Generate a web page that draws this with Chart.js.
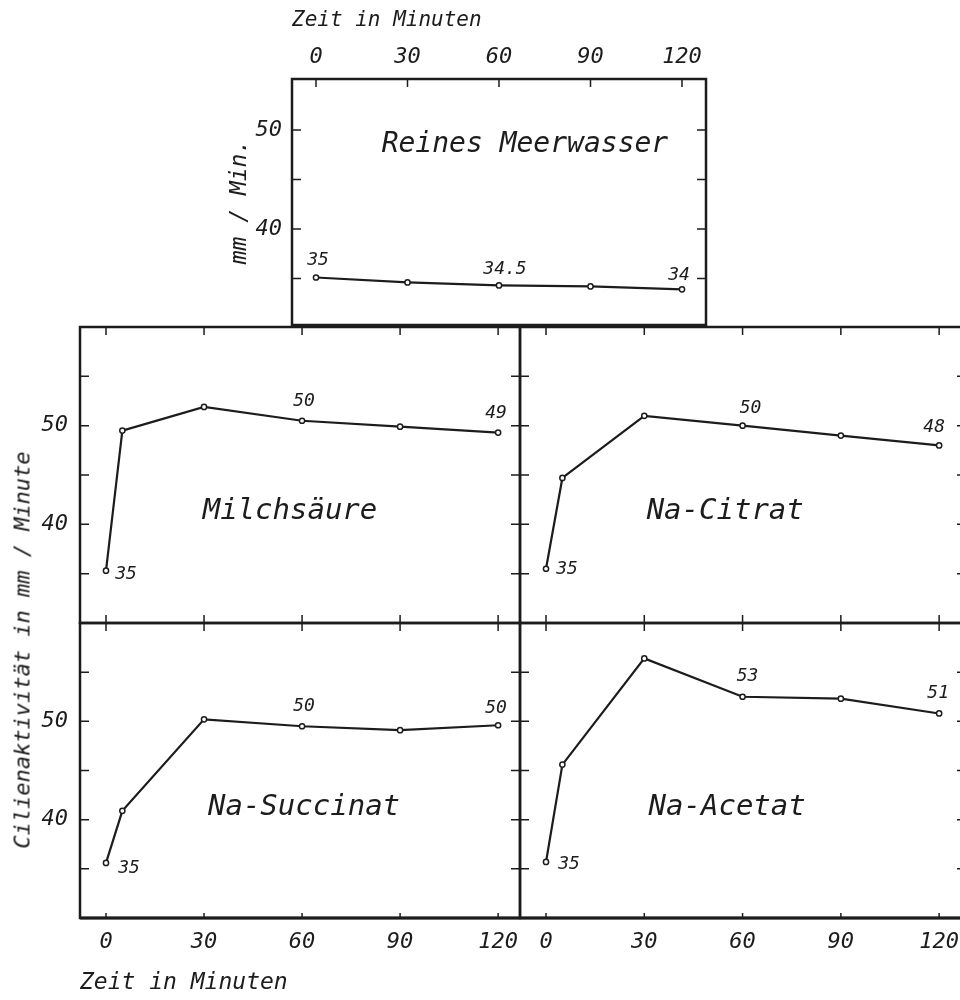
<!DOCTYPE html>
<html lang="de">
<head>
<meta charset="utf-8">
<title>Cilienaktivität</title>
<script src="https://cdn.jsdelivr.net/npm/chart.js@4.4.1/dist/chart.umd.min.js"></script>
<style>
  html, body { margin: 0; padding: 0; background: #fff; overflow: hidden; }
  body { width: 960px; height: 1000px; position: relative; }
  canvas { position: absolute; }
  #yTitel {
    position: absolute; left: 22px; top: 650px;
    transform: translate(-50%, -50%) rotate(-90deg);
    font: italic 22px 'DejaVu Sans Mono', monospace;
    white-space: nowrap; color: #1c1c1c;
  }
</style>
</head>
<body>
<canvas id="chartMeer" width="531" height="350" style="left:200px;top:0px"></canvas>
<canvas id="chartMilch" width="550" height="356" style="left:0px;top:297px"></canvas>
<canvas id="chartCitrat" width="500" height="356" style="left:490px;top:297px"></canvas>
<canvas id="chartSuccinat" width="550" height="407" style="left:0px;top:593px"></canvas>
<canvas id="chartAcetat" width="500" height="407" style="left:490px;top:593px"></canvas>
<div id="yTitel">Cilienaktivität in mm / Minute</div>

<script>
// Messzeitpunkte (Minuten)
const zeitMeer = [0, 30, 60, 90, 120];
const zeit = [0, 5, 30, 60, 90, 120];
const zeitTicks = [0, 30, 60, 90, 120];
const wertTicks = [35, 40, 45, 50, 55];
const wertLabels = [40, 50];

// Cilienaktivität in mm/Minute
const meerwasser = [35.1, 34.6, 34.3, 34.2, 33.9];
const milchsaeure = [35.3, 49.5, 51.9, 50.5, 49.9, 49.3];
const naCitrat = [35.5, 44.7, 51.0, 50.0, 49.0, 48.0];
const naSuccinat = [35.6, 40.9, 50.2, 49.5, 49.1, 49.6];
const naAcetat = [35.7, 45.6, 56.4, 52.5, 52.3, 50.8];

// Zahlen, die an die Punkte geschrieben sind
const meerText = ['35', '', '34.5', '', '34'];
const milchText = ['35', '', '', '50', '', '49'];
const citratText = ['35', '', '', '50', '', '48'];
const succinatText = ['35', '', '', '50', '', '50'];
const acetatText = ['35', '', '', '53', '', '51'];

const FONT = "'DejaVu Sans Mono', monospace";
const schwarz = '#1c1c1c';

// Rahmen, Striche nach innen und Beschriftung im Diagramm
const rahmen = {
    id: 'rahmen',
    beforeDatasetsDraw(chart, args, o) {
        const { ctx, chartArea: a, scales } = chart;
        ctx.save();
        ctx.strokeStyle = schwarz;
        ctx.lineWidth = 2.5;
        ctx.strokeRect(a.left, a.top, a.right - a.left, a.bottom - a.top);
        if (o.unten) {
            ctx.lineWidth = o.unten;
            ctx.beginPath();
            ctx.moveTo(a.left, a.bottom);
            ctx.lineTo(a.right, a.bottom);
            ctx.stroke();
        }
        ctx.lineWidth = 1.5;
        ctx.beginPath();
        zeitTicks.forEach(v => {
            const x = scales.x.getPixelForValue(v);
            ctx.moveTo(x, a.top); ctx.lineTo(x, a.top + 8);
            if (o.xUnten !== false) {
                const l = o.unten ? 5 : 8;
                ctx.moveTo(x, a.bottom); ctx.lineTo(x, a.bottom - l);
            }
        });
        o.yTicks.forEach(v => {
            const y = scales.y.getPixelForValue(v);
            ctx.moveTo(a.left, y); ctx.lineTo(a.left + 9, y);
            ctx.moveTo(a.right, y); ctx.lineTo(a.right - 9, y);
        });
        ctx.stroke();
        ctx.restore();
    },
    afterDatasetsDraw(chart, args, o) {
        const { ctx, scales } = chart;
        ctx.save();
        ctx.fillStyle = schwarz;
        ctx.textAlign = 'center';
        ctx.textBaseline = 'middle';
        ctx.font = 'italic ' + o.nameSize + 'px ' + FONT;
        ctx.fillText(o.name, scales.x.getPixelForValue(o.nameX), scales.y.getPixelForValue(o.nameY));
        ctx.font = 'italic 18px ' + FONT;
        const pts = chart.getDatasetMeta(0).data;
        o.texte.forEach((t, i) => {
            if (!t) return;
            const off = o.versatz[i];
            ctx.fillText(t, pts[i].x + off[0], pts[i].y + off[1]);
        });
        ctx.restore();
    }
};

function schrift(size) {
    return { family: FONT, size: size, style: 'italic' };
}

function panel(id, c) {
    const xAchse = {
        type: 'linear', min: c.xMin, max: c.xMax,
        position: c.xPos || 'bottom',
        display: !!c.xHoehe,
        afterBuildTicks: s => { s.ticks = zeitTicks.map(v => ({ value: v })); },
        grid: { display: false, drawTicks: false },
        border: { display: false },
        ticks: { font: schrift(22), color: schwarz, padding: c.xPad, maxRotation: 0, autoSkip: false },
        title: c.xTitel ? {
            display: true, text: 'Zeit in Minuten', align: 'start', color: schwarz,
            font: schrift(c.xTitelSize), padding: c.xTitelPad
        } : { display: false }
    };
    if (c.xHoehe) xAchse.afterFit = s => { s.height = c.xHoehe; };

    const yAchse = {
        type: 'linear', min: c.yMin, max: c.yMax,
        display: !!c.yBreite,
        afterBuildTicks: s => { s.ticks = wertLabels.map(v => ({ value: v })); },
        grid: { display: false, drawTicks: false },
        border: { display: false },
        ticks: { font: schrift(22), color: schwarz, padding: c.yPad },
        title: c.yTitel ? {
            display: true, text: c.yTitel, color: schwarz,
            font: schrift(23), padding: { top: 26, bottom: 0 }
        } : { display: false }
    };
    if (c.yBreite) yAchse.afterFit = s => { s.width = c.yBreite; };

    return new Chart(document.getElementById(id), {
        type: 'line',
        data: {
            datasets: [{
                data: c.x.map((v, i) => ({ x: v, y: c.y[i] })),
                borderColor: schwarz,
                borderWidth: 2.2,
                tension: 0,
                pointRadius: 2.6,
                pointBackgroundColor: '#fff',
                pointBorderColor: schwarz,
                pointBorderWidth: 1.5
            }]
        },
        options: {
            responsive: false,
            animation: false,
            events: [],
            layout: { padding: c.padding },
            plugins: {
                legend: { display: false },
                tooltip: { enabled: false },
                rahmen: {
                    name: c.name, nameX: c.nameX, nameY: c.nameY, nameSize: c.nameSize || 29,
                    texte: c.texte, versatz: c.versatz,
                    yTicks: c.yTicks, unten: c.unten, xUnten: c.xUnten
                }
            },
            scales: { x: xAchse, y: yAchse }
        },
        plugins: [rahmen]
    });
}

panel('chartMeer', {
    x: zeitMeer, y: meerwasser, texte: meerText,
    versatz: { 0: [2, -17], 2: [6, -16], 4: [-3, -14] },
    name: 'Reines Meerwasser', nameX: 68.5, nameY: 48.5, nameSize: 28,
    xMin: -7.87, xMax: 127.87, yMin: 30.3, yMax: 55.15,
    xPos: 'top', xHoehe: 79, xPad: 9, xTitel: true, xTitelSize: 21, xTitelPad: { top: 8, bottom: 0 },
    yBreite: 92, yPad: 10, yTitel: 'mm / Min.',
    yTicks: [35, 40, 45, 50], xUnten: false,
    padding: { left: 0, top: 0, right: 25, bottom: 25 }
});

panel('chartMilch', {
    x: zeit, y: milchsaeure, texte: milchText,
    versatz: { 0: [20, 4], 3: [2, -19], 5: [-2, -19] },
    name: 'Milchsäure', nameX: 56.3, nameY: 41.3,
    xMin: -7.96, xMax: 126.7, yMin: 30, yMax: 60,
    yBreite: 80, yPad: 12, yTicks: wertTicks,
    padding: { left: 0, top: 30, right: 30, bottom: 30 }
});

panel('chartCitrat', {
    x: zeit, y: naCitrat, texte: citratText,
    versatz: { 0: [21, 1], 3: [8, -17], 5: [-5, -18] },
    name: 'Na-Citrat', nameX: 54.7, nameY: 41.3,
    xMin: -7.94, xMax: 128.2, yMin: 30, yMax: 60,
    yTicks: wertTicks,
    padding: { left: 30, top: 30, right: 24, bottom: 30 }
});

panel('chartSuccinat', {
    x: zeit, y: naSuccinat, texte: succinatText,
    versatz: { 0: [23, 5], 3: [2, -20], 5: [-2, -17] },
    name: 'Na-Succinat', nameX: 60.6, nameY: 41.2,
    xMin: -7.96, xMax: 126.7, yMin: 30, yMax: 60,
    xHoehe: 82, xPad: 11, xTitel: true, xTitelSize: 23, xTitelPad: { top: 0, bottom: 3 },
    yBreite: 80, yPad: 12, yTicks: wertTicks, unten: 3,
    padding: { left: 0, top: 30, right: 30, bottom: 0 }
});

panel('chartAcetat', {
    x: zeit, y: naAcetat, texte: acetatText,
    versatz: { 0: [23, 2], 3: [5, -20], 5: [-1, -20] },
    name: 'Na-Acetat', nameX: 55.3, nameY: 41.2,
    xMin: -7.94, xMax: 128.2, yMin: 30, yMax: 60,
    xHoehe: 82, xPad: 11, yTicks: wertTicks, unten: 3,
    padding: { left: 30, top: 30, right: 24, bottom: 0 }
});
</script>
</body>
</html>
